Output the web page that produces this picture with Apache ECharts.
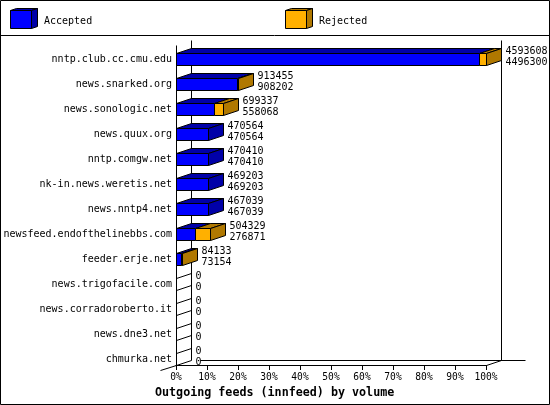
<!DOCTYPE html>
<html><head><meta charset="utf-8">
<style>html,body{margin:0;padding:0;background:#fff}#c{width:550px;height:405px}</style>
<script src="https://cdn.jsdelivr.net/npm/echarts@6/dist/echarts.min.js"></script>
</head><body><div id="c"></div>
<script>
const categories=["nntp.club.cc.cmu.edu","news.snarked.org","news.sonologic.net","news.quux.org","nntp.comgw.net","nk-in.news.weretis.net","news.nntp4.net","newsfeed.endofthelinebbs.com","feeder.erje.net","news.trigofacile.com","news.corradoroberto.it","news.dne3.net","chmurka.net"];
const totalValues=[4593608,913455,699337,470564,470410,469203,467039,504329,84133,0,0,0,0];
const acceptedValues=[4496300,908202,558068,470564,470410,469203,467039,276871,73154,0,0,0,0];
const seriesNames=["Accepted","Rejected"];
const axisMax=Math.max(...totalValues);

const FONT='"DejaVu Sans Mono",monospace';
const BLUE='#0000ff',BLUE_DK='#0000a8',ORANGE='#ffb000',ORANGE_DK='#b07800';
const DX=15,DY=5,HALF=6;
const crisp=v=>Math.round(v)+0.5;
const sty=f=>({fill:f,stroke:'#000',lineWidth:1});
const poly=(pts,f)=>({type:'polygon',shape:{points:pts},style:sty(f)});
const line=(x1,y1,x2,y2)=>({type:'line',shape:{x1,y1,x2,y2},style:{stroke:'#000',lineWidth:1}});

function renderBar(p,api){
  const acc=api.coord([api.value(0),api.value(2)]);
  const tot=api.coord([api.value(1),api.value(2)]);
  const x0=crisp(api.coord([0,0])[0]);
  const xa=crisp(acc[0]),xt=crisp(tot[0]);
  const t=crisp(acc[1]-HALF),b=crisp(acc[1]+HALF);
  const hasRej=api.value(1)>api.value(0);
  const ch=[];
  if(api.value(1)>0){
    ch.push(poly([[x0,t],[x0+DX,t-DY],[xa+DX,t-DY],[xa,t]],BLUE_DK));
    if(hasRej) ch.push(poly([[xa,t],[xa+DX,t-DY],[xt+DX,t-DY],[xt,t]],ORANGE_DK));
    ch.push(poly([[xt,t],[xt+DX,t-DY],[xt+DX,b-DY],[xt,b]],hasRej?ORANGE_DK:BLUE_DK));
    ch.push({type:'rect',shape:{x:x0,y:t,width:xa-x0,height:b-t},style:sty(BLUE)});
    if(hasRej) ch.push({type:'rect',shape:{x:xa,y:t,width:xt-xa,height:b-t},style:sty(ORANGE)});
  } else {
    ch.push(line(x0,t,x0+DX,t-DY));
    ch.push(line(x0,b,x0+DX,b-DY));
  }
  const lx=xt+DX+4;
  const txt=(v,y)=>({type:'text',z2:5,style:{text:String(v),x:lx,y,font:'10px '+FONT,fill:'#000',verticalAlign:'middle'}});
  ch.push(txt(api.value(1),acc[1]-8));
  ch.push(txt(api.value(0),acc[1]+3));
  return {type:'group',children:ch};
}
function renderFrame(p,api){
  const l=crisp(api.coord([0,0])[0]),r=crisp(api.coord([axisMax,0])[0]);
  const fy=crisp(api.coord([0,categories.length-1])[1]+HALF);
  const top=crisp(api.coord([0,0])[1]-19);
  return {type:'group',children:[
    line(l,top+5,l,fy),
    line(l+DX,top,l+DX,fy-DY),
    line(r+DX,top,r+DX,fy-DY),
    line(l+DX+9,fy-DY,r+DX+24,fy-DY),
    line(l,fy,l-16,fy+5),
    line(r,fy,r+DX,fy-DY)
  ]};
}
function cube(x,f,fd){
  return [
    {type:'polygon',shape:{points:[[x,10.5],[x+6,8.5],[x+27,8.5],[x+21,10.5]]},style:sty(fd)},
    {type:'polygon',shape:{points:[[x+21,10.5],[x+27,8.5],[x+27,26.5],[x+21,28.5]]},style:sty(fd)},
    {type:'rect',shape:{x,y:10.5,width:21,height:18},style:sty(f)}
  ];
}
const legendText=(t,x)=>({type:'text',style:{text:t,x,y:21,font:'10px '+FONT,fill:'#000',verticalAlign:'middle'}});
const chart=echarts.init(document.getElementById('c'),null,{renderer:'canvas'});
chart.setOption({
  animation:false,backgroundColor:'#fff',
  title:{text:'Outgoing feeds (innfeed) by volume',left:155,top:387,padding:0,textStyle:{fontFamily:FONT,fontSize:11.7,fontWeight:'bold',color:'#000'}},
  grid:{left:176,width:310,top:59,height:300,containLabel:false},
  xAxis:{type:'value',position:'bottom',offset:6,min:0,max:axisMax,interval:axisMax/10,
    axisLine:{show:true,onZero:false,lineStyle:{color:'#000',width:1}},
    axisTick:{show:true,length:5,lineStyle:{color:'#000',width:1}},
    splitLine:{show:false},
    axisLabel:{margin:7,fontFamily:FONT,fontSize:9.6,color:'#000',showMinLabel:true,showMaxLabel:true,hideOverlap:false,
      formatter:v=>Math.round(v/axisMax*100)+'%'}},
  yAxis:{type:'category',inverse:true,boundaryGap:false,data:categories,
    axisLine:{show:false},axisTick:{show:false},splitLine:{show:false},
    axisLabel:{margin:4,interval:0,padding:[2,0,0,0],fontFamily:FONT,fontSize:10,color:'#000',showMinLabel:true,showMaxLabel:true}},
  graphic:[
    {type:'rect',silent:true,shape:{x:0.5,y:0.5,width:549,height:404},style:{fill:'none',stroke:'#000',lineWidth:1}},
    {type:'line',silent:true,shape:{x1:0,y1:35.5,x2:549,y2:35.5},style:{stroke:'#000',lineWidth:1}},
    ...cube(10.5,BLUE,BLUE_DK),...cube(285.5,ORANGE,ORANGE_DK),
    legendText(seriesNames[0],44),legendText(seriesNames[1],319)
  ],
  series:[
    {type:'custom',name:'frame',clip:false,z:1,silent:true,data:[[0]],encode:{x:0},renderItem:renderFrame},
    {type:'custom',name:'bars',clip:false,z:2,silent:true,
     data:categories.map((c,i)=>[acceptedValues[i],totalValues[i],i]),
     encode:{x:[0,1],y:2},renderItem:renderBar}
  ]
});
</script></body></html>
